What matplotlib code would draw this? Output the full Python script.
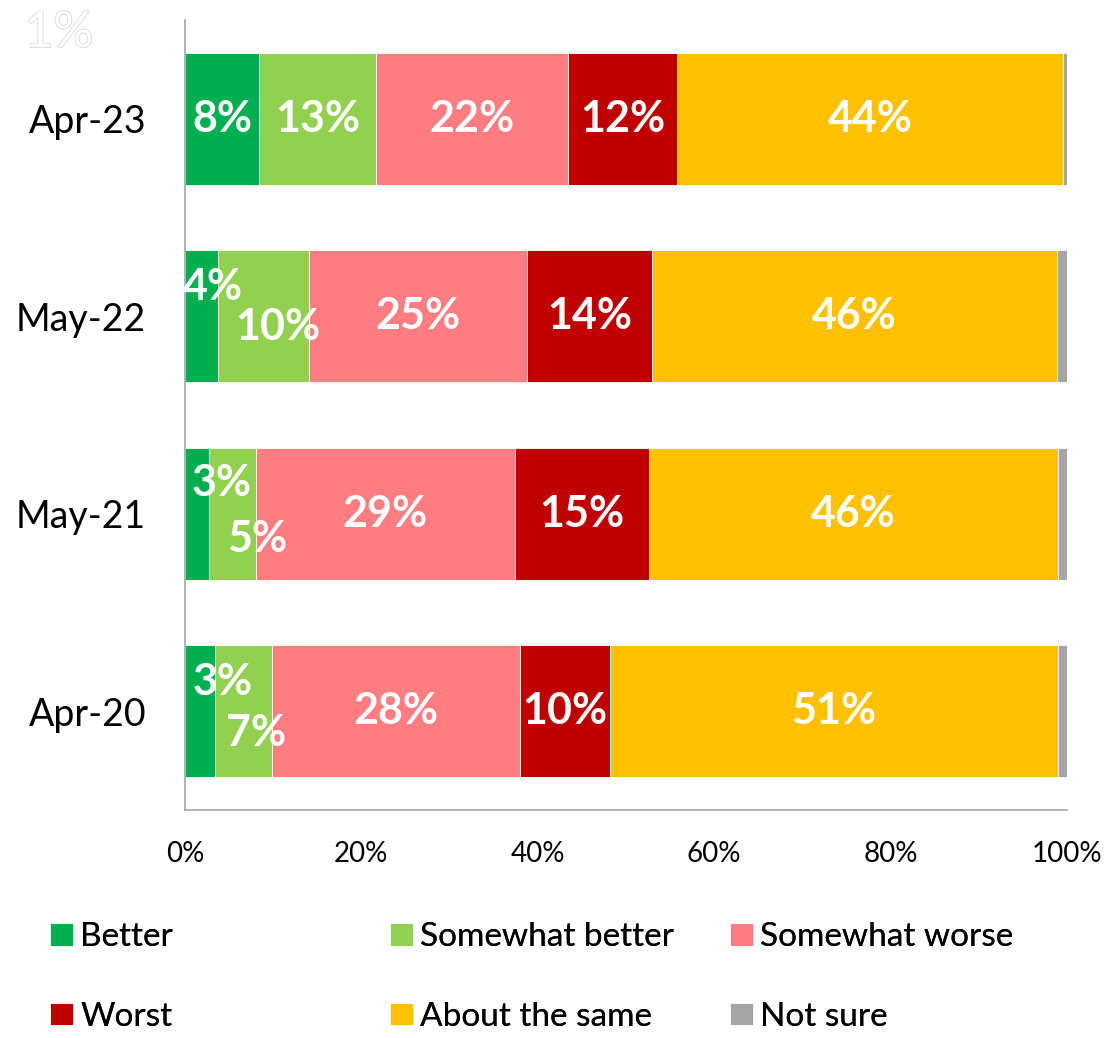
import numpy as np
import matplotlib.pyplot as plt
import matplotlib.patheffects as pe

plt.rcParams['font.family'] = ['Lato', 'DejaVu Sans']

# data (percent), bottom to top
periods = ['Apr-20', 'May-21', 'May-22', 'Apr-23']
series = ['Better', 'Somewhat better', 'Somewhat worse',
          'Worst', 'About the same', 'Not sure']
better = [3.4, 2.7, 3.7, 8.4]
somewhat_better = [6.5, 5.3, 10.4, 13.3]
somewhat_worse = [28.1, 29.4, 24.7, 21.7]
worst = [10.2, 15.2, 14.1, 12.4]
same = [50.8, 46.4, 46.0, 43.7]
not_sure = [1.0, 1.0, 1.1, 0.5]
labels = {
    'Better': ['3%', '3%', '4%', '8%'],
    'Somewhat better': ['7%', '5%', '10%', '13%'],
    'Somewhat worse': ['28%', '29%', '25%', '22%'],
    'Worst': ['10%', '15%', '14%', '12%'],
    'About the same': ['51%', '46%', '46%', '44%'],
}
not_sure_label = '1%'

colors = ['#00b050', '#92d050', '#ff7c80', '#c00000', '#ffc000', '#a5a5a5']
# label offsets (points) for the narrow segments
offsets = {
    'Better': [(16, 21), (18, 22), (8, 21), (0, 0)],
    'Somewhat better': [(9, -16), (18, -18), (10, -8), (0, 0)],
}


def main():
    fig = plt.figure(figsize=(11.14, 10.38), dpi=100)
    ax = fig.add_axes([185 / 1114, 1 - 810 / 1038,
                       882 / 1114, 790 / 1038])

    values = [better, somewhat_better, somewhat_worse, worst, same, not_sure]
    y = np.arange(len(periods))
    left = np.zeros(len(periods))
    handles = []
    for name, vals, col in zip(series, values, colors):
        vals = np.array(vals)
        bars = ax.barh(y, vals, left=left, height=0.67, color=col,
                       edgecolor='white', linewidth=0.6, label=name)
        handles.append(bars[0])
        if name in labels:
            for i in range(len(periods)):
                off = offsets.get(name, [(0, 0)] * 4)[i]
                ax.annotate(labels[name][i], (left[i] + vals[i] / 2, y[i]),
                            xytext=off, textcoords='offset points',
                            ha='center', va='center', color='white',
                            fontsize=31, fontweight='bold')
        left = left + vals

    # stray "Not sure" label in the corner
    fig.text(59 / 1114, 1 - 33 / 1038, not_sure_label, ha='center',
             va='center', fontsize=36, color='white',
             path_effects=[pe.withStroke(linewidth=1.2, foreground='#d9d9d9')])

    ax.set_xlim(0, 100)
    ax.set_ylim(-0.5, 3.5)
    ax.set_yticks(y)
    ax.set_yticklabels(periods, fontsize=27)
    ax.set_xticks(np.arange(0, 101, 20))
    ax.set_xticklabels(['{}%'.format(v) for v in range(0, 101, 20)],
                       fontsize=20)
    ax.tick_params(axis='y', length=0, pad=28)
    ax.tick_params(axis='x', length=0, pad=22)
    for s in ['top', 'right']:
        ax.spines[s].set_visible(False)
    for s in ['left', 'bottom']:
        ax.spines[s].set_color('#a6a6a6')
        ax.spines[s].set_linewidth(1.2)

    # legend: three columns of two rows
    cols_x = [37 / 1114, 377 / 1114, 717 / 1114]
    for c in range(3):
        idx = [c, c + 3]
        leg = fig.legend([handles[k] for k in idx], [series[k] for k in idx],
                         loc='upper left',
                         bbox_to_anchor=(cols_x[c], 1 - 909 / 1038),
                         frameon=False, fontsize=24, handlelength=0.68,
                         handleheight=0.68, handletextpad=0.22,
                         labelspacing=1.48, borderaxespad=0)
        fig.add_artist(leg)

    fig.savefig('out.png', dpi=100)


if __name__ == "__main__":
    main()
